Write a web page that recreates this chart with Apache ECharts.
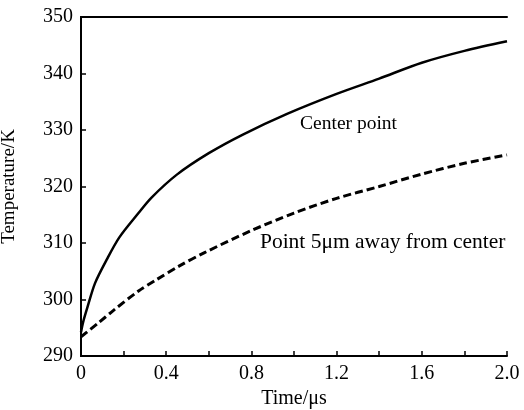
<!DOCTYPE html>
<html>
<head>
<meta charset="utf-8">
<script src="https://cdn.jsdelivr.net/npm/echarts@6/dist/echarts.min.js"></script>
<style>html,body{margin:0;padding:0;background:#fff}#c{width:524px;height:410px}</style>
</head>
<body>
<div id="c"></div>
<script>
// Data
var centerTime = [0, 0.01, 0.03, 0.066, 0.12, 0.18, 0.27, 0.33, 0.45, 0.6, 0.76, 0.97, 1.2, 1.4, 1.6, 1.8, 2.0];
var centerTemp = [294.2, 296.0, 298.6, 302.9, 307.0, 311.0, 315.3, 318.0, 322.1, 325.9, 329.2, 332.9, 336.4, 339.1, 341.9, 344.0, 345.7];
var awayTime = [0, 0.08, 0.15, 0.27, 0.35, 0.46, 0.58, 0.8, 1.0, 1.2, 1.4, 1.6, 1.8, 2.0];
var awayTemp = [293.4, 295.8, 298.0, 301.5, 303.4, 305.9, 308.3, 312.2, 315.3, 317.9, 320.0, 322.2, 324.1, 325.6];
var xTicks = [0, 0.4, 0.8, 1.2, 1.6, 2.0];
var yTicks = [290, 300, 310, 320, 330, 340, 350];
var labelCenter = {text: 'Center point', t: 1.256, T: 331.0};
var labelAway = {text: 'Point 5\u03bcm away from center', t: 0.84, T: 310.2};

function pairs(xs, ys) { return xs.map(function (x, i) { return [x, ys[i]]; }); }

var FONT = 'Liberation Serif';
var chart = echarts.init(document.getElementById('c'), null, {renderer: 'canvas'});
var option = {
  animation: false,
  backgroundColor: '#fff',
  grid: {left: 81, right: 17, top: 17, bottom: 54, containLabel: false, outerBoundsMode: 'none'},
  xAxis: [{
    type: 'value', min: 0, max: 2.0, interval: 0.2,
    name: 'Time/\u03bcs', nameLocation: 'middle', nameGap: 26,
    nameTextStyle: {fontFamily: FONT, fontSize: 20, color: '#000'},
    axisLine: {lineStyle: {color: '#000', width: 2}},
    axisTick: {inside: true, length: 5, lineStyle: {color: '#000', width: 1.5}},
    axisLabel: {
      fontFamily: FONT, fontSize: 20, color: '#000', margin: 8,
      formatter: function (v) {
        var r = Math.round(v * 10) / 10;
        for (var i = 0; i < xTicks.length; i++) {
          if (Math.abs(xTicks[i] - r) < 1e-6) return r === 0 ? '0' : r.toFixed(1);
        }
        return '';
      }
    },
    splitLine: {show: false}
  }, {
    type: 'value', position: 'top', min: 0, max: 2.0,
    axisLine: {show: true, lineStyle: {color: '#000', width: 2}},
    axisTick: {show: false}, axisLabel: {show: false}, splitLine: {show: false}
  }],
  yAxis: [{
    type: 'value', min: yTicks[0], max: yTicks[yTicks.length - 1], interval: 10,
    name: 'Temperature/K', nameLocation: 'middle', nameGap: 62, nameRotate: 90,
    nameTextStyle: {fontFamily: FONT, fontSize: 19, color: '#000'},
    axisLine: {show: true, lineStyle: {color: '#000', width: 2}},
    axisTick: {show: true, inside: true, length: 5, lineStyle: {color: '#000', width: 1.5}},
    axisLabel: {fontFamily: FONT, fontSize: 20, color: '#000', margin: 8},
    splitLine: {show: false}
  }, {
    type: 'value', position: 'right', min: yTicks[0], max: yTicks[yTicks.length - 1],
    axisLine: {show: true, lineStyle: {color: '#000', width: 2}},
    axisTick: {show: false}, axisLabel: {show: false}, splitLine: {show: false}
  }],
  series: [{
    type: 'line', name: 'Center point', data: pairs(centerTime, centerTemp),
    smooth: 0.3, showSymbol: false, symbol: 'none',
    lineStyle: {color: '#000', width: 2.5}
  }, {
    type: 'line', name: 'Point 5um', data: pairs(awayTime, awayTemp),
    smooth: 0.3, showSymbol: false, symbol: 'none',
    lineStyle: {color: '#000', width: 3, type: [8, 4]}
  }]
};
chart.setOption(option);
var p1 = chart.convertToPixel({xAxisIndex: 0, yAxisIndex: 0}, [labelCenter.t, labelCenter.T]);
var p2 = chart.convertToPixel({xAxisIndex: 0, yAxisIndex: 0}, [labelAway.t, labelAway.T]);
chart.setOption({
  graphic: [
    {type: 'text', x: p1[0], y: p1[1], style: {text: labelCenter.text, font: '19.5px "Liberation Serif"', fill: '#000', textAlign: 'center', textVerticalAlign: 'middle'}},
    {type: 'text', x: p2[0], y: p2[1], style: {text: labelAway.text, font: '21.5px "Liberation Serif"', fill: '#000', textAlign: 'left', textVerticalAlign: 'middle'}}
  ]
});
</script>
</body>
</html>
